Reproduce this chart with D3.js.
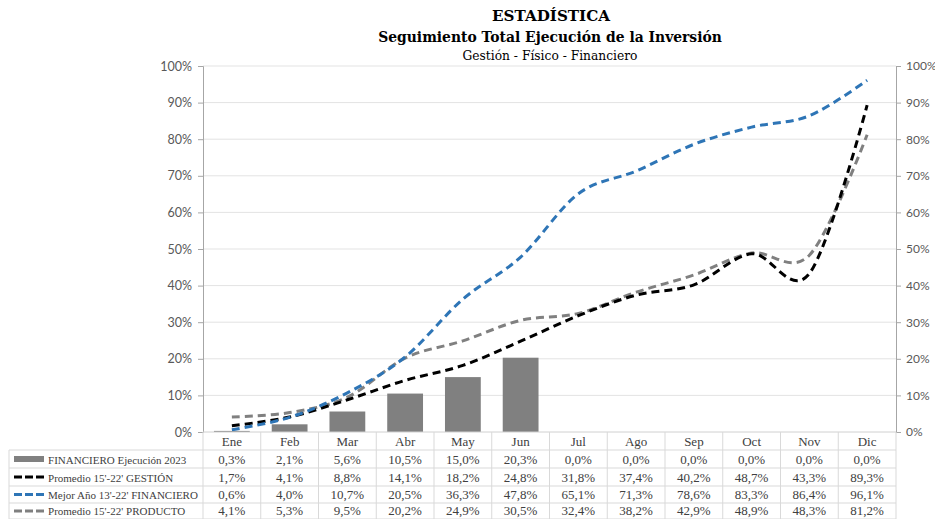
<!DOCTYPE html>
<html><head><meta charset="utf-8">
<script src="https://cdn.jsdelivr.net/npm/d3@7/dist/d3.min.js"></script>
<style>body{margin:0;background:#fff}svg{display:block}</style>
</head><body>
<svg id="c" width="935" height="519"></svg>
<script>
const months = ["Ene","Feb","Mar","Abr","May","Jun","Jul","Ago","Sep","Oct","Nov","Dic"];
const financiero2023 = [0.3,2.1,5.6,10.5,15.0,20.3,0.0,0.0,0.0,0.0,0.0,0.0];
const promGestion = [1.7,4.1,8.8,14.1,18.2,24.8,31.8,37.4,40.2,48.7,43.3,89.3];
const mejorFinanciero = [0.6,4.0,10.7,20.5,36.3,47.8,65.1,71.3,78.6,83.3,86.4,96.1];
const promProducto = [4.1,5.3,9.5,20.2,24.9,30.5,32.4,38.2,42.9,48.9,48.3,81.2];
const barMonths = 6; // bars drawn only Ene-Jun
const yTicks = [0,10,20,30,40,50,60,70,80,90,100];
const seriesNames = ["FINANCIERO Ejecución 2023","Promedio 15'-22' GESTIÓN","Mejor Año 13'-22' FINANCIERO","Promedio 15'-22' PRODUCTO"];

const svg = d3.select("#c");
const L = 203, R = 896, T = 66, B = 432;
const x = d3.scaleBand().domain(months).range([L, R]).paddingInner(0.38).paddingOuter(0.19);
const xc = d3.scaleBand().domain(months).range([L, R]);
const y = d3.scaleLinear().domain([0,100]).range([B, T]);
const serifF = "'DejaVu Serif', serif";
const tblF = "'Liberation Serif', serif";
const sansF = "Lato, 'Liberation Sans', sans-serif";

function fit(sel, target){
  const s0 = parseFloat(sel.attr("font-size"));
  const w = sel.node().getComputedTextLength();
  sel.attr("font-size", (s0*target/w).toFixed(2));
}

// titles
fit(svg.append("text").attr("x",551).attr("y",21).attr("text-anchor","middle")
  .attr("font-family",serifF).attr("font-weight","bold").attr("font-size",15).attr("fill","#000").text("ESTADÍSTICA"),118);
fit(svg.append("text").attr("x",550).attr("y",42).attr("text-anchor","middle")
  .attr("font-family",serifF).attr("font-weight","bold").attr("font-size",14).attr("fill","#000").text("Seguimiento Total Ejecución de la Inversión"),344);
fit(svg.append("text").attr("x",550).attr("y",60).attr("text-anchor","middle")
  .attr("font-family",serifF).attr("font-size",12).attr("fill","#000").text("Gestión - Físico - Financiero"),175);

// gridlines
svg.append("g").selectAll("line").data(yTicks.slice(1)).join("line")
  .attr("x1",L).attr("x2",R).attr("y1",d=>y(d)).attr("y2",d=>y(d))
  .attr("stroke","#e3e3e3").attr("stroke-width",1);

// axes
const fmt = d=>d+"%";
const gl = svg.append("g").attr("transform",`translate(${L},0)`)
  .call(d3.axisLeft(y).tickValues(yTicks).tickFormat(fmt).tickSize(5).tickPadding(6));
const gr = svg.append("g").attr("transform",`translate(${R},0)`)
  .call(d3.axisRight(y).tickValues(yTicks).tickFormat(fmt).tickSize(5).tickPadding(5));
[gl,gr].forEach(g=>{
  g.selectAll("path,line").attr("stroke","#a6a6a6");
  g.selectAll("text").attr("font-family",sansF).attr("font-size",12.5).attr("fill","#595959");
});
gr.selectAll("text").attr("font-size",12);

// bars
svg.append("g").selectAll("rect").data(financiero2023.slice(0,barMonths)).join("rect")
  .attr("x",(d,i)=>x(months[i])).attr("width",x.bandwidth())
  .attr("y",d=>y(d)).attr("height",d=>B-y(d)).attr("fill","#808080");

// lines
const lineSeries = [
  {v: promProducto, c:"#808080"},
  {v: promGestion, c:"#000000"},
  {v: mejorFinanciero, c:"#2e75b6"}
];
const line = d3.line().x((d,i)=>xc(months[i])+xc.bandwidth()/2).y(d=>y(d)).curve(d3.curveCardinal.tension(0));
lineSeries.forEach(s=>{
  svg.append("path").datum(s.v).attr("d",line).attr("fill","none")
    .attr("stroke",s.c).attr("stroke-width",3).attr("stroke-dasharray","8,5");
});

// x axis baseline
svg.append("line").attr("x1",L).attr("x2",R).attr("y1",B).attr("y2",B).attr("stroke","#d0d0d0");

// data table
const rowsY = [432,450,468,486,503,519];
const TL = 9;
const grid = svg.append("g").attr("stroke","#d9d9d9").attr("stroke-width",1);
rowsY.slice(1).forEach(yy=>grid.append("line").attr("x1",TL).attr("x2",R).attr("y1",yy).attr("y2",yy));
months.forEach((m,i)=>{
  grid.append("line").attr("x1",xc(m)).attr("x2",xc(m)).attr("y1",B).attr("y2",519);
});
grid.append("line").attr("x1",R).attr("x2",R).attr("y1",B).attr("y2",519);
grid.append("line").attr("x1",TL).attr("x2",TL).attr("y1",rowsY[1]).attr("y2",519);

// header months
svg.append("g").selectAll("text").data(months).join("text")
  .attr("x",d=>xc(d)+xc.bandwidth()/2).attr("y",rowsY[1]-4).attr("text-anchor","middle")
  .attr("font-family",tblF).attr("font-size",13).attr("fill","#404040").text(d=>d);

const tableData = [financiero2023, promGestion, mejorFinanciero, promProducto];
const fmtV = v=>v.toFixed(1).replace(".",",")+"%";
const legTexts = [];
tableData.forEach((arr,r)=>{
  const yy = rowsY[r+2]-4;
  svg.append("g").selectAll("text").data(arr).join("text")
    .attr("x",(d,i)=>xc(months[i])+xc.bandwidth()/2).attr("y",yy).attr("text-anchor","middle")
    .attr("font-family",tblF).attr("font-size",13).attr("fill","#404040").text(fmtV);
  const ym = (rowsY[r+1]+rowsY[r+2])/2;
  if(r===0){
    svg.append("rect").attr("x",14).attr("y",ym-3).attr("width",30).attr("height",6).attr("fill","#808080");
  } else {
    const col = ["","#000000","#2e75b6","#808080"][r];
    svg.append("line").attr("x1",14).attr("x2",44).attr("y1",ym).attr("y2",ym)
      .attr("stroke",col).attr("stroke-width",3).attr("stroke-dasharray","8,3");
  }
  legTexts.push(svg.append("text").attr("x",48).attr("y",yy).attr("font-family",tblF).attr("font-size",13)
    .attr("fill","#404040").text(seriesNames[r]));
});
// size legend so the longest name fits its column
const longest = legTexts[2];
const w = longest.node().getComputedTextLength();
const fs = (13*150/w).toFixed(2);
legTexts.forEach(t=>t.attr("font-size",fs));
</script>
</body></html>
